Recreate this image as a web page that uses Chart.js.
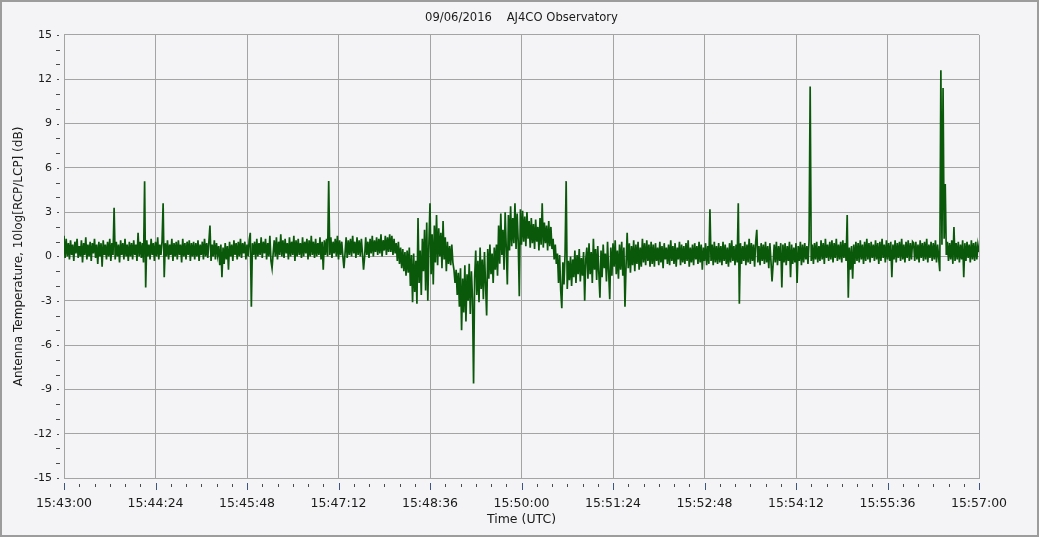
<!DOCTYPE html>
<html><head><meta charset="utf-8">
<script src="https://cdn.jsdelivr.net/npm/chart.js@4/dist/chart.umd.min.js"></script>
<style>html,body{margin:0;padding:0;background:#f4f4f6;} canvas{display:block;}</style>
</head><body>
<canvas id="c" width="1039" height="537"></canvas>
<script>
// Time axis labels (every 84 s), start at 15:43:00
const xTickLabels = ['15:43:00','15:44:24','15:45:48','15:47:12','15:48:36','15:50:00','15:51:24','15:52:48','15:54:12','15:55:36','15:57:00'];
const titleText = '09/06/2016\u00a0\u00a0\u00a0\u00a0AJ4CO Observatory';
const yTitle = 'Antenna Temperature, 10log[RCP/LCP] (dB)';
const xTitle = 'Time (UTC)';

// 10log[RCP/LCP] (dB), one sample per second, one array per minute
const m43 = [1.4,-0.1,1.2,0.0,0.9,-0.2,1.1,0.1,0.8,-0.3,1.0,0.2,1.2,-0.1,0.7,0.0,1.1,-0.4,0.9,0.1,1.3,-0.2,0.8,0.0,1.0,-0.3,0.9,0.2,1.2,-0.1,0.8,-0.5,1.0,0.0,0.9,-0.7,1.1,0.1,0.8,-0.2,1.0,0.0,1.2,-0.3,0.9,0.1,3.3,-0.2,1.0,0.0,0.8,-0.4,1.1,0.1,0.9,-0.2,1.2,0.0,0.8,-0.3];
const m44 = [1.0,0.0,0.9,-0.2,1.1,0.1,0.8,-0.3,1.6,0.0,1.0,-0.1,0.9,-0.4,5.1,-2.1,1.1,0.0,0.8,-0.2,1.2,0.1,0.9,-0.3,1.0,0.0,1.3,-0.2,0.8,0.1,1.0,3.6,-1.4,0.9,0.0,1.1,-0.2,0.8,0.1,1.2,-0.3,0.9,0.0,1.0,-0.2,1.1,0.1,0.8,-0.4,1.2,0.0,0.9,-0.2,1.0,0.1,1.1,-0.3,0.9,0.0,1.0];
const m45 = [-0.2,0.9,0.0,1.1,-0.3,0.8,0.1,1.0,-0.2,1.2,0.0,0.9,-0.1,1.0,2.1,-0.3,0.8,0.0,1.1,-0.2,0.9,0.1,0.7,-0.6,0.8,-1.4,0.6,-0.5,0.9,-0.2,0.7,-0.9,1.0,0.0,0.8,-0.3,1.1,0.1,0.9,-0.2,1.0,0.0,1.2,-0.1,0.9,0.2,1.0,-0.2,0.8,0.0,1.1,1.6,-3.4,0.9,0.1,1.0,-0.2,1.2,0.0,0.9];
const m46 = [0.1,1.3,-0.1,1.0,0.2,1.2,-0.2,0.9,0.0,1.4,-0.3,-0.8,0.2,1.1,0.0,1.3,-0.2,1.0,0.1,1.5,0.0,1.1,-0.1,1.2,0.2,0.9,-0.2,1.3,0.0,1.0,0.1,1.4,-0.3,1.1,0.0,1.2,0.1,0.9,-0.1,1.3,0.0,1.0,0.2,1.2,-0.2,1.1,0.0,1.4,0.1,1.0,-0.1,1.2,0.0,0.9,0.1,1.3,-0.2,1.0,-0.9,1.1];
const m47 = [0.1,1.2,0.0,5.1,0.1,1.3,-0.1,1.0,0.2,1.2,0.0,1.4,-0.2,1.1,0.1,1.0,0.0,-0.8,0.2,1.3,-0.1,1.1,0.1,1.2,0.0,1.4,0.2,1.0,-0.1,1.3,0.1,1.1,0.0,1.2,0.2,-0.9,0.0,1.3,0.1,1.0,-0.1,1.2,0.2,1.4,0.0,1.1,0.3,1.3,0.1,1.2,0.2,1.5,0.0,1.1,0.4,1.4,0.1,1.3,0.3,1.5];
const m48 = [0.3,1.4,0.1,1.2,0.2,0.9,-0.3,1.0,-0.5,0.6,-0.8,0.5,-1.0,0.3,-1.3,0.4,-1.1,0.6,-2.0,0.1,-3.1,0.2,-2.4,-0.3,-3.2,2.6,-1.8,0.4,-2.6,1.2,-1.0,1.8,-2.3,2.3,-3.0,0.9,3.6,-1.2,1.5,-1.9,2.1,-0.4,2.8,-0.6,1.9,0.0,1.6,-0.8,2.4,-0.2,1.3,-1.0,1.0,-0.5,0.7,-0.6,0.8,-0.4,-0.9,-1.8];
const m49 = [-0.9,-2.6,-1.1,-3.4,-0.8,-5.0,-1.5,-3.8,-0.6,-4.4,-1.2,-3.0,-0.5,-3.9,-1.0,-2.8,-8.6,-1.4,0.4,-2.6,-0.3,-3.1,0.6,-2.2,-0.2,-2.9,0.3,-1.9,-4.0,0.5,-1.5,0.8,-1.2,0.2,-1.8,0.6,-0.9,0.8,-1.3,2.1,-0.5,2.9,0.1,1.8,-0.9,3.0,0.6,-1.9,2.8,0.4,3.4,0.7,2.6,0.9,3.6,0.5,2.9,1.0,-2.7,3.2];
const m50 = [0.8,3.1,1.0,2.7,0.7,3.0,1.2,2.4,0.6,2.6,0.9,2.2,0.5,2.5,1.0,2.0,0.4,2.6,0.8,3.6,0.6,2.3,0.9,2.1,0.4,2.4,0.7,2.0,0.5,1.2,-0.2,0.8,-0.5,0.2,-1.8,0.1,-2.3,-3.5,-0.4,-1.9,0.2,5.1,-2.2,-0.3,-1.6,0.0,-2.0,-0.2,-1.4,0.4,-1.8,0.1,-1.2,0.5,-1.7,-0.1,-1.3,0.3,-3.0,-0.2];
const m51 = [0.6,-1.5,0.9,-1.2,0.3,-1.8,1.2,-0.9,0.5,-1.6,0.7,-1.1,-2.8,0.4,-1.4,0.8,-0.8,0.2,-1.7,1.0,-1.0,-2.9,0.6,-1.3,0.9,-0.7,1.1,-1.2,0.4,-1.5,0.8,-0.9,1.0,-1.3,0.6,-3.4,-0.6,1.6,-0.8,0.9,-1.1,0.7,-0.6,1.1,-1.0,0.8,-0.5,1.0,-0.9,0.6,-0.7,1.2,-0.4,0.9,-0.6,1.1,-0.3,0.8,-0.7,1.0];
const m52 = [-0.5,0.8,-0.7,0.9,-0.3,0.6,-0.6,1.0,-0.4,0.7,-0.8,0.9,-0.2,0.6,-0.5,0.8,-0.6,1.1,-0.3,0.7,-0.5,0.9,-0.7,0.6,-0.2,1.0,-0.6,0.8,-0.4,0.7,-0.5,0.9,-0.3,1.1,-0.7,0.6,-0.4,0.8,-0.6,0.9,-0.2,0.7,-0.5,1.0,-0.4,0.8,-0.9,0.6,-0.3,0.9,-0.6,0.7,-0.5,3.2,-0.3,0.8,-0.6,1.0,-0.4,0.7];
const m53 = [-0.5,0.9,-0.4,0.7,-0.6,1.0,-0.3,0.8,-0.5,0.6,-0.7,0.9,-0.4,1.1,-0.3,0.7,-0.6,0.8,-0.4,3.6,-3.2,0.9,-0.5,0.7,-0.3,1.0,-0.6,0.8,-0.4,1.2,-0.5,0.9,-0.3,0.8,-0.7,1.0,1.8,-0.4,0.7,-0.6,0.9,-0.3,0.8,-0.5,1.0,-0.4,0.7,-0.8,0.9,-0.3,-1.7,-0.5,0.8,-0.4,1.0,-0.6,0.7,-0.3,0.9,-2.1];
const m54 = [0.8,-0.4,0.9,-0.6,0.7,-0.3,1.0,-1.4,0.8,-0.5,0.6,-0.4,0.9,-1.8,0.7,-0.3,1.0,-0.6,0.8,-0.4,0.9,-0.2,0.7,-0.5,1.1,11.5,-0.3,0.8,-0.5,0.9,-0.2,1.0,-0.4,0.7,-0.3,1.1,-0.2,0.9,-0.5,1.2,-0.1,0.8,-0.3,1.0,-0.2,1.1,-0.4,0.9,-0.1,1.2,-0.3,0.8,-0.2,1.0,-0.4,1.1,-0.1,0.9,-0.3,2.8];
const m55 = [-2.8,0.6,-0.9,0.7,-1.5,0.8,-0.5,1.0,-0.3,0.9,-0.4,1.1,-0.2,0.8,-0.5,1.0,-0.3,1.2,-0.2,0.9,-0.4,1.0,-0.1,0.8,-0.3,1.1,-0.2,0.9,-0.5,1.0,-0.3,1.2,-0.1,0.8,-0.4,1.1,-0.2,0.9,-0.3,1.0,-1.4,0.8,-0.2,1.1,-0.4,0.9,-0.1,1.0,-0.3,1.2,-0.2,0.8,-0.4,1.0,-0.1,1.1,-0.3,0.9,-0.2,1.0];
const m56 = [0.9,-0.3,1.0,-0.2,0.8,-0.4,1.1,-0.1,0.9,-0.3,1.0,-0.2,1.2,-0.4,0.8,-0.1,1.0,-0.3,0.9,-0.2,1.1,-0.4,0.8,-0.1,-1.0,12.6,0.8,11.4,1.2,4.9,0.1,1.0,-0.3,0.9,-0.2,1.1,-0.5,2.0,-0.3,0.9,-0.2,1.0,-0.4,0.8,-0.2,1.1,-1.4,0.9,-0.3,1.0,-0.1,0.8,-0.4,1.1,-0.2,0.9,-0.3,1.0,-0.2,0.8,0.3];

const minutes = [m43,m44,m45,m46,m47,m48,m49,m50,m51,m52,m53,m54,m55,m56];
const points = [];
minutes.forEach((arr, k) => arr.forEach((v, i) => points.push({x: k * 60 + i, y: v})));

const FONT = 'DejaVu Sans';
const GRID = '#a4a4a4';

const bgPlugin = {
  id: 'bg',
  beforeDraw(chart) {
    const {ctx, width, height} = chart;
    ctx.save();
    ctx.fillStyle = '#f4f4f6';
    ctx.fillRect(0, 0, width, height);
    ctx.strokeStyle = '#9c9c9c';
    ctx.lineWidth = 2;
    ctx.strokeRect(1, 1, width - 2, height - 2);
    ctx.restore();
  }
};

const tickPlugin = {
  id: 'tickmarks',
  afterDraw(chart) {
    const {ctx, scales: {x, y}} = chart;
    const bottom = chart.chartArea.bottom;
    const left = chart.chartArea.left;
    ctx.save();
    ctx.lineWidth = 1;
    x.ticks.forEach(t => {
      const px = Math.round(x.getPixelForValue(t.value)) + 0.5;
      const major = t.value % 84 === 0;
      ctx.strokeStyle = major ? '#3d5580' : '#4a4a4a';
      ctx.beginPath();
      ctx.moveTo(px, bottom + (major ? 5 : 6));
      ctx.lineTo(px, bottom + (major ? 12 : 9));
      ctx.stroke();
    });
    y.ticks.forEach(t => {
      const py = Math.round(y.getPixelForValue(t.value)) + 0.5;
      const major = t.value % 3 === 0;
      ctx.strokeStyle = '#4a4a4a';
      ctx.beginPath();
      if (major) { ctx.moveTo(left - 7, py); ctx.lineTo(left - 5, py); }
      else { ctx.moveTo(left - 8, py); ctx.lineTo(left - 4, py); }
      ctx.stroke();
    });
    ctx.restore();
  }
};

new Chart(document.getElementById('c'), {
  type: 'line',
  data: {
    datasets: [{
      data: points,
      borderColor: '#0a580a',
      borderWidth: 1.7,
      pointRadius: 0,
      tension: 0,
      fill: false
    }]
  },
  options: {
    responsive: false,
    animation: false,
    parsing: false,
    normalized: true,
    layout: { padding: { left: 0, right: 60, top: 0, bottom: 0 } },
    plugins: {
      legend: { display: false },
      tooltip: { enabled: false },
      title: {
        display: true,
        text: titleText,
        fullSize: false,
        color: '#1a1a1a',
        font: { family: FONT, size: 11.6, weight: 'normal' },
        padding: { top: 11, bottom: 10 }
      }
    },
    scales: {
      x: {
        type: 'linear',
        min: 0,
        max: 840,
        afterFit(s) { s.height = 59; },
        ticks: {
          stepSize: 14,
          autoSkip: false,
          maxRotation: 0,
          maxTicksLimit: 100,
          padding: 6,
          color: '#1a1a1a',
          font: { family: FONT, size: 12.5 },
          callback: v => (v % 84 === 0 ? xTickLabels[v / 84] : '')
        },
        grid: {
          color: c => (c.tick && c.tick.value % 84 === 0 ? GRID : 'rgba(0,0,0,0)'),
          tickColor: 'rgba(0,0,0,0)',
          tickLength: 12
        },
        border: { color: GRID },
        title: {
          display: true,
          text: xTitle,
          color: '#1a1a1a',
          font: { family: FONT, size: 12.5 },
          padding: { top: 0, bottom: 10 }
        }
      },
      y: {
        min: -15,
        max: 15,
        afterFit(s) { s.width = 64; },
        ticks: {
          stepSize: 1,
          maxTicksLimit: 100,
          autoSkip: false,
          padding: 6,
          color: '#1a1a1a',
          font: { family: FONT, size: 11 },
          callback: v => (v % 3 === 0 ? String(v) : '')
        },
        grid: {
          color: c => (c.tick && c.tick.value % 3 === 0 ? GRID : 'rgba(0,0,0,0)'),
          tickColor: 'rgba(0,0,0,0)',
          tickLength: 6
        },
        border: { color: GRID },
        title: {
          display: true,
          text: yTitle,
          color: '#1a1a1a',
          font: { family: FONT, size: 12 },
          padding: { top: 12, bottom: 0 }
        }
      }
    }
  },
  plugins: [bgPlugin, tickPlugin]
});
</script>
</body></html>
